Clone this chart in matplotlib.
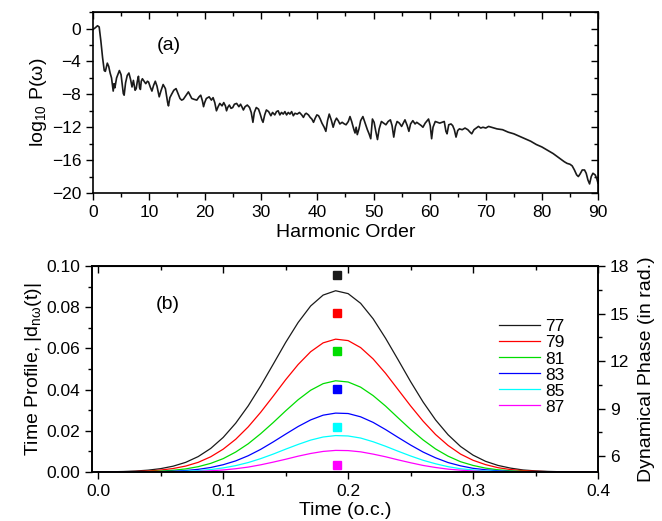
import matplotlib
matplotlib.use("Agg")
import matplotlib.pyplot as plt
from matplotlib.ticker import MultipleLocator

plt.rcParams['font.family'] = ['Liberation Sans', 'DejaVu Sans']
plt.rcParams['mathtext.fontset'] = 'custom'
plt.rcParams['mathtext.rm'] = 'Liberation Sans'
plt.rcParams['mathtext.it'] = 'Liberation Sans'
plt.rcParams['mathtext.bf'] = 'Liberation Sans:bold'

# ---------------- panel (a) data ----------------
harmonic = [0.0, 0.4, 0.8, 1.1, 1.4, 1.7, 2.0, 2.2, 2.55, 2.8, 3.05, 3.3, 3.6, 3.75, 3.9, 4.2, 4.7, 5.0,
            5.4, 5.55, 5.8, 6.1, 6.4, 6.7, 6.95, 7.2, 7.5, 7.7, 7.9, 8.1, 8.3, 8.45, 8.6, 8.8, 9.1, 9.4,
            9.7, 9.9, 10.2, 10.5, 10.8, 11.1, 11.4, 11.8, 12.1, 12.5, 12.9, 13.3, 13.45, 13.7, 14.0, 14.4,
            14.8, 15.2, 15.5, 15.8, 16.1, 16.5, 17.0, 17.3, 17.6, 18.0, 18.5, 18.9, 19.2, 19.5, 19.7, 19.9,
            20.2, 20.7, 21.1, 21.4, 21.7, 22.0, 22.3, 22.6, 23.0, 23.3, 23.6, 23.8, 24.0, 24.3, 24.6, 24.9,
            25.2, 25.6, 26.0, 26.3, 26.6, 26.8, 27.1, 27.5, 27.9, 28.2, 28.5, 28.75, 29.1, 29.5, 29.8, 30.1,
            30.3, 30.6, 30.9, 31.3, 31.7, 32.0, 32.4, 32.7, 33.0, 33.3, 33.6, 33.9, 34.2, 34.5, 34.8, 35.1,
            35.4, 35.7, 36.0, 36.4, 36.8, 37.2, 37.5, 37.8, 38.0, 38.4, 38.7, 39.0, 39.3, 39.6, 39.9, 40.2,
            40.5, 40.8, 41.2, 41.5, 41.8, 42.1, 42.5, 42.8, 43.1, 43.4, 43.7, 44.0, 44.4, 44.8, 45.1, 45.5,
            45.8, 46.1, 46.5, 46.7, 46.9, 47.1, 47.4, 47.7, 48.1, 48.5, 48.9, 49.2, 49.5, 49.8, 50.1, 50.4,
            50.7, 51.0, 51.4, 51.8, 52.2, 52.6, 53.0, 53.3, 53.6, 53.9, 54.2, 54.6, 55.0, 55.3, 55.6, 56.0,
            56.3, 56.6, 57.0, 57.4, 57.7, 58.1, 58.5, 58.8, 59.2, 59.8, 60.1, 60.35, 60.6, 61.0, 61.4, 61.8,
            62.2, 62.6, 62.9, 63.1, 63.4, 63.8, 64.1, 64.4, 64.7, 65.0, 65.3, 65.8, 66.3, 66.8, 67.2, 67.5,
            67.9, 68.3, 68.7, 69.1, 69.5, 70.0, 70.5, 71.0, 71.5, 72.0, 73.0, 74.0, 75.0, 76.0, 77.0, 78.0,
            79.0, 80.0, 81.0, 82.0, 83.0, 84.0, 84.5, 85.0, 85.4, 85.8, 86.2, 86.5, 86.8, 87.2, 87.6, 87.9,
            88.2, 88.5, 88.8, 89.1, 89.5, 89.8, 90.0]
log_power = [-0.1, 0.1, 0.35, 0.2, -1.5, -3.5, -5.1, -5.2, -4.2, -4.6, -5.4, -6.0, -7.6, -6.7, -7.2, -6.0, -5.1, -5.6,
             -7.9, -8.1, -6.6, -5.7, -5.4, -6.2, -7.1, -6.3, -7.5, -7.3, -6.4, -5.8, -7.2, -7.4, -6.4, -6.1, -6.4, -6.7,
             -6.4, -6.5, -7.1, -7.6, -6.9, -6.4, -7.0, -8.3, -7.6, -6.8, -7.3, -9.0, -9.4, -8.4, -8.0, -7.5,
             -7.3, -8.0, -8.5, -8.7, -8.6, -8.2, -7.7, -8.1, -8.5, -8.6, -8.7, -8.3, -8.1, -8.8, -9.5, -9.0,
             -8.5, -8.3, -8.7, -8.4, -9.0, -10.0, -9.5, -9.1, -9.4, -9.0, -9.4, -10.0, -9.6, -9.3, -9.7, -9.6,
             -9.2, -9.1, -9.5, -9.2, -9.6, -9.9, -9.5, -9.3, -9.6, -10.2, -11.4, -10.2, -9.6, -9.8, -10.4, -11.1,
             -11.4, -10.5, -9.9, -10.1, -10.6, -10.2, -10.5, -10.1, -10.0, -10.5, -10.2, -10.4, -10.1, -10.5, -10.2, -10.4,
             -10.1, -10.6, -10.3, -10.4, -10.2, -10.5, -10.8, -10.4, -10.3, -10.5, -10.8, -11.0, -11.4, -10.9, -10.5, -10.6,
             -11.0, -11.5, -12.0, -12.5, -11.2, -10.4, -11.2, -12.0, -11.3, -10.9, -11.2, -11.6, -11.4, -11.6, -11.7, -11.3,
             -10.7, -11.3, -12.3, -12.7, -12.0, -12.9, -12.2, -11.2, -10.7, -11.5, -12.3, -12.8, -13.4, -11.0, -11.4, -12.5,
             -13.5, -12.2, -11.3, -11.5, -11.7, -11.3, -11.1, -11.8, -13.2, -11.9, -11.3, -11.5, -11.9, -11.5, -11.1, -11.8,
             -12.5, -11.6, -11.2, -11.6, -11.4, -11.6, -11.8, -12.0, -11.5, -11.0, -11.8, -13.4, -12.0, -11.3, -11.4, -11.5,
             -11.4, -11.3, -12.5, -12.8, -11.7, -11.6, -11.8, -12.3, -13.2, -12.4, -12.2, -12.3, -12.1, -12.3, -12.6, -12.8,
             -12.3, -12.1, -11.9, -12.1, -12.0, -12.1, -11.9, -12.0, -12.1, -12.2, -12.3, -12.6, -12.8, -13.1, -13.4, -13.7,
             -14.1, -14.4, -14.8, -15.2, -15.7, -16.2, -16.4, -16.5, -16.7, -17.2, -17.8, -18.0, -17.7, -17.2, -17.2, -17.6,
             -18.4, -18.9, -18.0, -17.6, -17.8, -18.3, -18.8]

# ---------------- panel (b) data ----------------
time_oc = [0.00, 0.01, 0.02, 0.03, 0.04, 0.05, 0.06, 0.07, 0.08, 0.09, 0.10, 0.11, 0.12, 0.13, 0.14,
           0.15, 0.16, 0.17, 0.18, 0.19, 0.20, 0.21, 0.22, 0.23, 0.24, 0.25, 0.26, 0.27, 0.28, 0.29,
           0.30, 0.31, 0.32, 0.33, 0.34, 0.35, 0.36, 0.37, 0.38, 0.39, 0.40]
prof_77 = [0.00006, 0.00012, 0.00025, 0.00049, 0.00092, 0.00165, 0.00285, 0.0047, 0.0075, 0.01145, 0.0168,
           0.0237, 0.0321, 0.0418, 0.0523, 0.0629, 0.0726, 0.0806, 0.0859, 0.0880, 0.0866, 0.0819, 0.0744,
           0.0649, 0.0545, 0.0439, 0.0340, 0.0253, 0.0181, 0.0124, 0.0082, 0.0052, 0.0032, 0.0019, 0.0010,
           0.00056, 0.0003, 0.00015, 0.00007, 0.00003, 0.00001]
prof_79 = [0.00003, 0.00007, 0.00014, 0.00027, 0.00053, 0.00097, 0.00171, 0.0029, 0.0047, 0.0074, 0.0111,
           0.0159, 0.0219, 0.0290, 0.0368, 0.0448, 0.0522, 0.0584, 0.0627, 0.0645, 0.0638, 0.0604, 0.0549,
           0.0479, 0.0400, 0.0321, 0.0247, 0.0182, 0.0129, 0.0087, 0.0057, 0.0036, 0.0021, 0.0012, 0.0007,
           0.00036, 0.00018, 0.00009, 0.00004, 0.00002, 0.00001]
prof_81 = [0.00001, 0.00002, 0.00005, 0.00012, 0.00024, 0.00046, 0.00086, 0.00152, 0.0026, 0.0042, 0.0065,
           0.0097, 0.0137, 0.0186, 0.0240, 0.0297, 0.0351, 0.0397, 0.0429, 0.0443, 0.0437, 0.0412, 0.0371,
           0.0320, 0.0263, 0.0207, 0.0156, 0.0112, 0.0077, 0.0050, 0.0032, 0.0019, 0.0011, 0.0006, 0.0003,
           0.00015, 0.00007, 0.00003, 0.00001, 0.0, 0.0]
prof_83 = [0.0, 0.00001, 0.00002, 0.00005, 0.0001, 0.00021, 0.0004, 0.00074, 0.0013, 0.0022, 0.00355,
           0.0054, 0.0079, 0.0110, 0.0146, 0.0184, 0.0221, 0.0253, 0.0276, 0.0286, 0.0284, 0.0268, 0.0241,
           0.0206, 0.0168, 0.0131, 0.0097, 0.0069, 0.0046, 0.0030, 0.0018, 0.0011, 0.0006, 0.0003, 0.00015,
           0.00007, 0.00003, 0.00001, 0.0, 0.0, 0.0]
prof_85 = [0.0, 0.0, 0.00001, 0.00002, 0.00005, 0.0001, 0.0002, 0.0004, 0.0007, 0.0012, 0.0020,
           0.0031, 0.0046, 0.0065, 0.0087, 0.0111, 0.0134, 0.0155, 0.0170, 0.0177, 0.0175, 0.0165, 0.0147,
           0.0125, 0.0101, 0.0078, 0.0057, 0.0040, 0.0026, 0.0016, 0.0010, 0.0006, 0.0003, 0.0002, 0.0001,
           0.0, 0.0, 0.0, 0.0, 0.0, 0.0]
prof_87 = [0.0, 0.0, 0.0, 0.00001, 0.00002, 0.00004, 0.00008, 0.00016, 0.0003, 0.0006, 0.0010,
           0.0016, 0.0024, 0.0035, 0.0048, 0.0062, 0.0077, 0.0090, 0.0100, 0.0105, 0.0104, 0.0098, 0.0087,
           0.0074, 0.0059, 0.0045, 0.0032, 0.0022, 0.0014, 0.0009, 0.0005, 0.0003, 0.0001, 0.0001, 0.0,
           0.0, 0.0, 0.0, 0.0, 0.0, 0.0]
orders = ['77', '79', '81', '83', '85', '87']
colors = ['#1a1a1a', '#ff0000', '#00dd00', '#0000ff', '#00ffff', '#ff00ff']
phase_time = [0.191, 0.191, 0.191, 0.191, 0.191, 0.191]
phase_values = [17.42, 15.03, 12.62, 10.24, 7.87, 5.46]

profiles = [prof_77, prof_79, prof_81, prof_83, prof_85, prof_87]

fig = plt.figure(figsize=(6.62, 5.21), dpi=100)

TICK_FS = 12.5
LABEL_FS = 14

def style_ticks(ax):
    ax.tick_params(which='major', length=5, width=1.0, labelsize=TICK_FS, direction='out')
    ax.tick_params(which='minor', length=3, width=1.0, direction='out')
    for s in ax.spines.values():
        s.set_linewidth(1.2)

# ---------- (a) ----------
ax1 = fig.add_axes([0.1405, 0.6296, 0.7628, 0.347])
ax1.plot(harmonic, log_power, color='#1a1a1a', lw=1.2)
ax1.set_xlim(0, 90)
ax1.set_ylim(-20, 2)
ax1.xaxis.set_major_locator(MultipleLocator(10))
ax1.xaxis.set_minor_locator(MultipleLocator(5))
ax1.yaxis.set_major_locator(MultipleLocator(4))
ax1.yaxis.set_minor_locator(MultipleLocator(2))
style_ticks(ax1)
ax1.set_xlabel('Harmonic Order', fontsize=LABEL_FS, labelpad=3)
ax1.set_ylabel(r'log$_{10}$ P(ω)', fontsize=LABEL_FS, labelpad=2)
ax1.text(13.5, -2.05, '(a)', fontsize=LABEL_FS, ha='center', va='center')
sec = ax1.secondary_xaxis('top')
sec.xaxis.set_major_locator(MultipleLocator(10))
sec.xaxis.set_minor_locator(MultipleLocator(5))
sec.tick_params(which='major', direction='in', length=5, width=1.0, labeltop=False)
sec.tick_params(which='minor', direction='in', length=3, width=1.0)
secy = ax1.secondary_yaxis('right')
secy.yaxis.set_major_locator(MultipleLocator(4))
secy.yaxis.set_minor_locator(MultipleLocator(2))
secy.tick_params(which='major', direction='in', length=5, width=1.0, labelright=False)
secy.tick_params(which='minor', direction='in', length=3, width=1.0)

# ---------- (b) ----------
ax2 = fig.add_axes([0.1390, 0.0940, 0.7643, 0.3954])
for lab, col, prof in zip(orders, colors, profiles):
    ax2.plot(time_oc, prof, color=col, lw=0.9, label=lab)
ax2.set_xlim(-0.005, 0.4)
ax2.set_ylim(0, 0.1)
ax2.xaxis.set_major_locator(MultipleLocator(0.1))
ax2.xaxis.set_minor_locator(MultipleLocator(0.05))
ax2.yaxis.set_major_locator(MultipleLocator(0.02))
ax2.yaxis.set_minor_locator(MultipleLocator(0.01))
ax2.xaxis.set_major_formatter(plt.FuncFormatter(lambda v, p: f'{v:.1f}'))
ax2.yaxis.set_major_formatter(plt.FuncFormatter(lambda v, p: f'{v:.2f}'))
style_ticks(ax2)
ax2.set_xlabel('Time (o.c.)', fontsize=LABEL_FS, labelpad=2)
ax2.set_ylabel(r'Time Profile, |d$_{\mathregular{nω}}$(t)|', fontsize=LABEL_FS, labelpad=2)
ax2.text(0.056, 0.0813, '(b)', fontsize=LABEL_FS, ha='center', va='center')
secx2 = ax2.secondary_xaxis('top')
secx2.xaxis.set_major_locator(MultipleLocator(0.1))
secx2.xaxis.set_minor_locator(MultipleLocator(0.05))
secx2.tick_params(which='major', direction='in', length=5, width=1.0, labeltop=False)
secx2.tick_params(which='minor', direction='in', length=3, width=1.0)

ax3 = ax2.twinx()
for t, ph, col in zip(phase_time, phase_values, colors):
    ax3.plot([t], [ph], marker='s', ms=5.5, color=col, linestyle='none')
ax3.set_ylim(5, 18)
ax3.yaxis.set_major_locator(MultipleLocator(3))
ax3.yaxis.set_minor_locator(MultipleLocator(1.5))
style_ticks(ax3)
ax3.set_ylabel('Dynamical Phase (in rad.)', fontsize=LABEL_FS, labelpad=6)

leg = ax2.legend(loc='upper left', bbox_to_anchor=(0.79, 0.775), frameon=False,
                 fontsize=TICK_FS, handlelength=2.4, handletextpad=0.3,
                 labelspacing=0.05, borderaxespad=0)

fig.savefig('out.png', dpi=100)
